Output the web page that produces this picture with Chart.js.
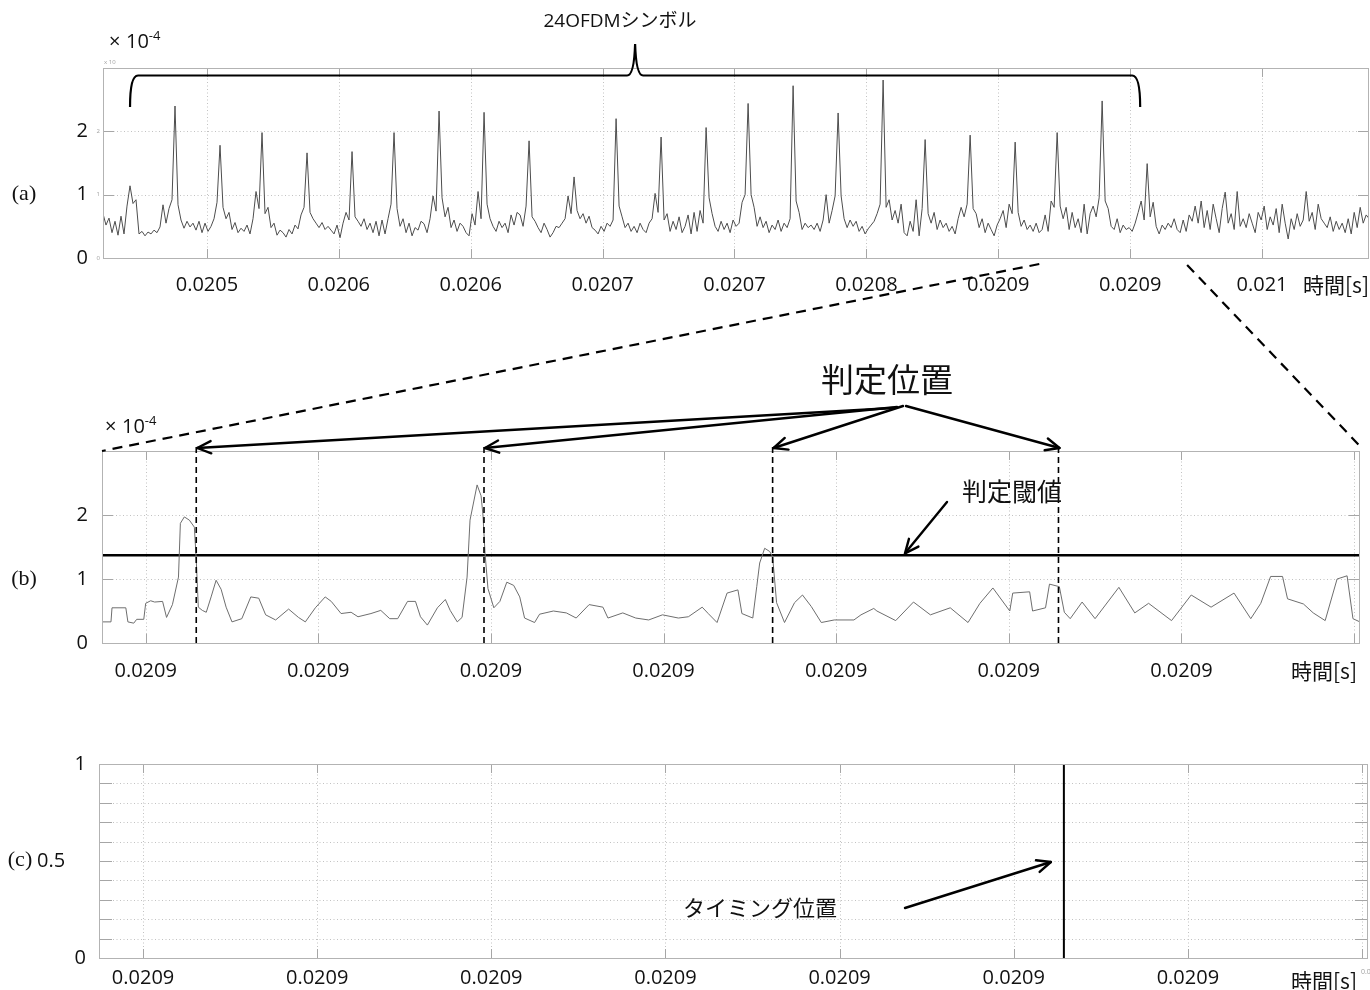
<!DOCTYPE html>
<html>
<head>
<meta charset="utf-8">
<script src="https://cdn.jsdelivr.net/npm/chart.js@4.4.1/dist/chart.umd.min.js"></script>
<style>
  html, body { margin: 0; padding: 0; background: #fff; }
  #wrap { position: relative; width: 1370px; height: 990px; overflow: hidden; background: #fff; }
  #wrap canvas { position: absolute; left: 0; }
</style>
</head>
<body>
<div id="wrap">
  <canvas id="ca" width="1370" height="320" style="top:0px"></canvas>
  <canvas id="cb" width="1370" height="370" style="top:320px"></canvas>
  <canvas id="cc" width="1370" height="290" style="top:700px"></canvas>
  <canvas id="ov" width="1370" height="990" style="top:0px;pointer-events:none"></canvas>
</div>
<script>
// ---------- (a) correlation output over the whole frame (x10^-4) ----------
const ampA = [
  0.70,0.52,0.63,0.40,0.58,0.36,0.66,0.38,0.82,1.14,
  0.86,0.92,0.38,0.42,0.35,0.41,0.38,0.44,0.40,0.49,
  0.84,0.55,0.78,0.92,2.40,0.84,0.60,0.47,0.58,0.49,
  0.55,0.44,0.58,0.40,0.55,0.42,0.50,0.62,0.88,1.78,
  0.80,0.62,0.72,0.45,0.56,0.40,0.47,0.42,0.52,0.38,
  0.62,1.05,0.78,1.98,0.70,0.80,0.48,0.55,0.36,0.44,
  0.40,0.33,0.45,0.38,0.52,0.46,0.68,0.80,1.66,0.72,
  0.62,0.55,0.48,0.56,0.45,0.50,0.44,0.38,0.52,0.32,
  0.55,0.72,0.60,1.68,0.65,0.58,0.50,0.62,0.45,0.55,
  0.40,0.58,0.35,0.60,0.38,0.62,0.85,1.98,0.78,0.50,
  0.62,0.40,0.55,0.35,0.48,0.44,0.58,0.54,0.40,0.62,
  0.98,0.74,2.32,0.95,0.65,0.80,0.48,0.60,0.42,0.55,
  0.50,0.40,0.35,0.70,0.52,1.05,0.62,2.30,0.85,0.62,
  0.50,0.42,0.58,0.48,0.55,0.40,0.68,0.52,0.72,0.68,
  0.50,0.82,1.85,0.65,0.58,0.48,0.40,0.55,0.45,0.33,
  0.40,0.50,0.48,0.55,0.62,0.98,0.70,1.28,0.75,0.62,
  0.70,0.55,0.66,0.48,0.44,0.38,0.50,0.42,0.55,0.50,
  0.60,2.20,0.82,0.65,0.48,0.55,0.42,0.50,0.40,0.55,
  0.45,0.40,0.55,0.62,1.02,0.72,1.91,0.60,0.70,0.42,
  0.58,0.45,0.65,0.40,0.50,0.68,0.38,0.72,0.42,0.75,
  0.55,2.06,0.95,0.70,0.50,0.42,0.58,0.45,0.55,0.40,
  0.60,0.50,0.55,0.88,1.00,2.44,1.00,0.80,0.50,0.65,
  0.48,0.58,0.40,0.52,0.45,0.60,0.42,0.55,0.48,0.62,
  2.72,0.90,0.72,0.45,0.55,0.48,0.52,0.45,0.55,0.42,
  0.60,1.00,0.55,0.75,0.98,2.29,0.98,0.62,0.48,0.60,
  0.50,0.58,0.42,0.50,0.38,0.46,0.52,0.58,0.70,0.85,
  2.81,0.80,0.92,0.60,0.75,0.55,0.85,0.40,0.35,0.58,
  0.42,0.92,0.35,0.78,1.87,0.70,0.55,0.72,0.45,0.60,
  0.48,0.55,0.42,0.50,0.38,0.62,0.80,0.65,0.85,1.94,
  0.78,0.70,0.48,0.62,0.40,0.55,0.45,0.35,0.52,0.62,
  0.75,0.48,0.85,0.70,1.83,0.72,0.50,0.60,0.45,0.52,
  0.42,0.55,0.40,0.45,0.68,0.42,0.90,0.80,1.98,0.82,
  0.62,0.80,0.45,0.72,0.48,0.62,0.40,0.85,0.38,0.70,
  0.82,0.65,0.95,2.48,0.90,0.78,0.50,0.45,0.62,0.40,
  0.52,0.45,0.48,0.42,0.55,0.72,0.90,0.60,1.49,0.65,
  0.88,0.50,0.38,0.52,0.45,0.55,0.48,0.62,0.45,0.40,
  0.60,0.42,0.68,0.58,0.82,0.55,0.90,0.48,0.75,0.45,
  0.85,0.62,0.40,0.78,1.04,0.55,0.70,0.45,1.05,0.50,
  0.62,0.48,0.70,0.55,0.40,0.72,0.60,0.82,0.45,0.65,
  0.52,0.78,0.40,0.85,0.55,0.30,0.62,0.45,0.70,0.50,
  0.60,1.05,0.58,0.72,0.45,0.85,0.62,0.55,0.48,0.65,
  0.42,0.58,0.45,0.55,0.40,0.62,0.38,0.72,0.48,0.80,
  0.55,0.68,0.62
];
const startA = -0.788;          // time of the first sample (axis tick units)
const stepA = 0.02275;          // sample spacing (axis tick units)
const rangeA = [-0.788, 8.811];
const tickPosA = [0, 1, 2, 3, 4, 5, 6, 7, 8];
const tickLabelsA = ['0.0205', '0.0206', '0.0206', '0.0207', '0.0207', '0.0208', '0.0209', '0.0209', '0.021'];
const yTicksA = [0, 1, 2, 3];
const yLabelsA = ['0', '1', '2', ''];
const symbolSpanA = [-0.583, 7.076];   // the 24 OFDM symbols
const zoomWindowA = [6.311, 7.432];    // stretch shown enlarged in (b)

// ---------- (b) enlarged correlation output with decision threshold ----------
const traceB = [
  [-25.3,0.33],[-20.1,0.33],[-19.5,0.55],[-11.5,0.55],[-10.3,0.33],[-6.9,0.31],[-5.2,0.37],[-1.1,0.37],
  [0,0.62],[2.9,0.66],[5.2,0.64],[9.8,0.65],[12.1,0.40],[15.5,0.60],[19.0,1.03],[20.1,1.87],
  [22.4,1.97],[25.3,1.92],[28.2,1.81],[29.3,1.30],[30.5,0.56],[32.8,0.51],[35.1,0.48],[37.9,0.72],
  [40.8,0.98],[43.7,0.84],[46.6,0.56],[50.0,0.33],[55.7,0.38],[60.9,0.72],[65.5,0.70],[69.5,0.44],
  [75.3,0.36],[82.8,0.53],[88.5,0.40],[92.5,0.33],[98.3,0.55],[104.0,0.72],[107.5,0.65],[113.2,0.46],
  [119.0,0.48],[123.0,0.41],[130.5,0.46],[136.2,0.51],[141.4,0.38],[146.0,0.38],[151.7,0.65],[156.3,0.65],
  [159.2,0.41],[163.2,0.28],[169.0,0.55],[173.6,0.68],[176.4,0.51],[180.5,0.33],[183.3,0.40],[186.2,1.03],
  [187.9,1.92],[192.0,2.47],[194.3,2.30],[195.4,2.00],[196.6,1.40],[198.3,0.85],[201.7,0.55],[205.2,0.65],
  [209.2,0.95],[213.2,0.90],[216.7,0.72],[219.5,0.39],[225.3,0.32],[228.2,0.45],[236.2,0.50],[243.7,0.47],
  [249.4,0.39],[256.9,0.60],[264.9,0.56],[267.8,0.39],[276.4,0.47],[283.9,0.39],[291.4,0.36],[299.4,0.44],
  [308.6,0.39],[314.4,0.41],[322.4,0.56],[325.9,0.46],[331.0,0.32],[336.8,0.78],[343.1,0.83],[345.4,0.46],
  [351.7,0.39],[354.0,0.88],[355.7,1.25],[358.6,1.48],[361.5,1.43],[363.2,1.35],[365.5,0.63],[370.1,0.32],
  [375.9,0.63],[380.5,0.75],[385.6,0.57],[391.4,0.32],[398.9,0.36],[410.3,0.36],[414.4,0.44],[421.8,0.54],
  [423.6,0.50],[434.5,0.35],[444.8,0.64],[454.6,0.44],[466.1,0.55],[476.4,0.32],[483.3,0.62],[490.8,0.86],
  [500.6,0.50],[502.3,0.78],[512.1,0.80],[513.8,0.50],[521.3,0.55],[523.6,0.92],[529.3,0.88],[532.2,0.48],
  [535.6,0.38],[542.5,0.64],[550.0,0.38],[563.8,0.87],[573.0,0.47],[581.0,0.62],[594.3,0.35],[605.7,0.75],
  [617.2,0.56],[630.5,0.78],[640.2,0.38],[646.0,0.62],[651.7,1.04],[658.6,1.04],[661.5,0.69],[670.7,0.61],
  [676.4,0.47],[683.3,0.35],[690.2,1.00],[696.0,1.05],[699.4,0.38],[703.4,0.33]
];
const rangeB = [-25.3, 703.4];
const tickPosB = [0, 100, 200, 300, 400, 500, 600, 700];
const tickLabelsB = ['0.0209', '0.0209', '0.0209', '0.0209', '0.0209', '0.0209', '0.0209', ''];
const yTicksB = [0, 1, 2, 3];
const yLabelsB = ['0', '1', '2', ''];
const thresholdB = [1.37];
const detectB = [29.3, 196.0, 363.2, 528.8];

// ---------- (c) timing output ----------
const timingT = [528.8];
const timingV = [1];
const yTicksC = [0, 0.1, 0.2, 0.3, 0.4, 0.5, 0.6, 0.7, 0.8, 0.9, 1.0];
const yLabelsC = ['0', '', '', '', '', '0.5    ', '', '', '', '', '1'];

// ---------- drawing helpers ----------
const SANS = "'Open Sans','Noto Sans CJK JP',sans-serif";
const CJK = "'Noto Sans CJK JP','Open Sans',sans-serif";
const SERIF = "'Liberation Serif','DejaVu Serif',serif";
const INK = '#111';
const TICK_FONT = { family: SANS, size: 20 };

function text(ctx, s, x, y, size, family, align = 'center', color = INK, weight = 'normal') {
  ctx.save();
  ctx.font = `${weight} ${size}px ${family}`;
  ctx.fillStyle = color;
  ctx.textAlign = align;
  ctx.textBaseline = 'middle';
  ctx.fillText(s, x, y);
  ctx.restore();
}

function arrow(ctx, x1, y1, x2, y2, width = 2.4, head = 15, spread = 0.42) {
  ctx.save();
  ctx.strokeStyle = '#000';
  ctx.lineWidth = width;
  ctx.lineCap = 'round';
  ctx.lineJoin = 'round';
  ctx.beginPath();
  ctx.moveTo(x1, y1);
  ctx.lineTo(x2, y2);
  ctx.stroke();
  const a = Math.atan2(y2 - y1, x2 - x1);
  ctx.beginPath();
  ctx.moveTo(x2 - head * Math.cos(a - spread), y2 - head * Math.sin(a - spread));
  ctx.lineTo(x2, y2);
  ctx.lineTo(x2 - head * Math.cos(a + spread), y2 - head * Math.sin(a + spread));
  ctx.stroke();
  ctx.restore();
}

// "×10^-4" exponent note above a y axis (x = left of the ×, y = baseline)
function exponent(ctx, x, y) {
  ctx.save();
  ctx.fillStyle = INK;
  ctx.textAlign = 'left';
  ctx.textBaseline = 'alphabetic';
  ctx.font = `20px ${SANS}`;
  ctx.fillText('×', x, y);
  ctx.fillText('10', x + 17, y);
  const w = ctx.measureText('10').width;
  ctx.font = `13px ${SANS}`;
  ctx.fillText('-4', x + 17 + w, y - 8);
  ctx.restore();
}

// dotted grid, boxed axes and inward tick marks
const axesBox = {
  id: 'axesBox',
  beforeDatasetsDraw(chart, args, o) {
    const { ctx, chartArea: a, scales: { x, y } } = chart;
    ctx.save();
    ctx.strokeStyle = '#c2c2c2';
    ctx.lineWidth = 1;
    ctx.setLineDash([1, 2.5]);
    ctx.beginPath();
    x.ticks.forEach(t => {
      const p = Math.round(x.getPixelForValue(t.value)) + 0.5;
      if (p > a.left + 2 && p < a.right - 2) { ctx.moveTo(p, a.top); ctx.lineTo(p, a.bottom); }
    });
    y.ticks.forEach(t => {
      const p = Math.round(y.getPixelForValue(t.value)) + 0.5;
      if (p > a.top + 2 && p < a.bottom - 2) { ctx.moveTo(a.left, p); ctx.lineTo(a.right, p); }
    });
    ctx.stroke();
    ctx.restore();
  },
  afterDatasetsDraw(chart, args, o) {
    const { ctx, chartArea: a, scales: { x, y } } = chart;
    ctx.save();
    ctx.strokeStyle = '#a6a6a6';
    ctx.lineWidth = 1;
    ctx.beginPath();
    x.ticks.forEach(t => {
      const p = Math.round(x.getPixelForValue(t.value)) + 0.5;
      if (p > a.left + 2 && p < a.right - 2) {
        ctx.moveTo(p, a.bottom); ctx.lineTo(p, a.bottom - o.xTick);
        ctx.moveTo(p, a.top); ctx.lineTo(p, a.top + o.xTick);
      }
    });
    y.ticks.forEach(t => {
      const p = Math.round(y.getPixelForValue(t.value)) + 0.5;
      if (p > a.top + 2 && p < a.bottom - 2) {
        ctx.moveTo(a.left, p); ctx.lineTo(a.left + o.yTick, p);
        ctx.moveTo(a.right, p); ctx.lineTo(a.right - o.yTick, p);
      }
    });
    ctx.stroke();
    ctx.strokeStyle = '#b3b3b3';
    ctx.strokeRect(Math.round(a.left) + 0.5, Math.round(a.top) + 0.5,
      Math.round(a.right - a.left) - 1, Math.round(a.bottom - a.top));
    ctx.restore();
  }
};
Chart.register(axesBox);

function axisOptions(c) {
  return {
    responsive: false,
    animation: false,
    events: [],
    layout: { padding: { top: c.top, right: 1, bottom: 0, left: 0 } },
    plugins: {
      legend: { display: false },
      tooltip: { enabled: false },
      axesBox: { xTick: c.xTick, yTick: c.yTick }
    },
    scales: {
      x: {
        type: 'linear', min: c.xRange[0], max: c.xRange[1],
        grid: { display: false, drawTicks: false },
        border: { display: false },
        afterBuildTicks: s => { s.ticks = c.xTicks.map(v => ({ value: v })); },
        afterFit: s => { s.height = c.xAxisHeight; },
        ticks: {
          autoSkip: false, maxRotation: 0, minRotation: 0, padding: c.xPad,
          color: INK, font: TICK_FONT,
          callback: (v, i) => c.xLabels[i]
        }
      },
      y: {
        type: 'linear', min: c.yRange[0], max: c.yRange[1],
        grid: { display: false, drawTicks: false },
        border: { display: false },
        afterBuildTicks: s => { s.ticks = c.yTicks.map(v => ({ value: v })); },
        afterFit: s => { s.width = c.left; },
        ticks: {
          autoSkip: false, padding: c.yPad,
          color: INK, font: TICK_FONT,
          callback: (v, i) => c.yLabels[i]
        }
      }
    }
  };
}

// ---------- chart (a) ----------
const chartA = new Chart(document.getElementById('ca'), {
  type: 'scatter',
  data: {
    datasets: [{
      data: ampA.map((v, i) => ({ x: startA + i * stepA, y: v })),
      showLine: true, borderColor: '#4d4d4d', borderWidth: 1, pointRadius: 0, tension: 0
    }]
  },
  options: axisOptions({
    top: 68, left: 103, xAxisHeight: 62, xPad: 15, yPad: 15, xTick: 9, yTick: 11,
    xRange: rangeA, xTicks: tickPosA, xLabels: tickLabelsA,
    yRange: [0, 3], yTicks: yTicksA, yLabels: yLabelsA
  }),
  plugins: [{
    id: 'notesA',
    afterDraw(chart) {
      const { ctx, chartArea: a, scales: { x, y } } = chart;
      text(ctx, '(a)', 24, 194, 22, SERIF);
      exponent(ctx, 109, 48);
      text(ctx, '24OFDMシンボル', 620, 22, 19, SANS);
      text(ctx, '時間[s]', 1336, 285, 21, CJK);
      // faint leftover labels of the raw plot
      ctx.save();
      ctx.fillStyle = '#a0a0a0';
      ctx.font = `6px ${SANS}`;
      ctx.textBaseline = 'middle';
      ctx.textAlign = 'left';
      ctx.fillText('x 10', a.left + 1, a.top - 6);
      ctx.textAlign = 'right';
      yTicksA.slice(0, 3).forEach((v, i) => ctx.fillText(yLabelsA[i], a.left - 3, y.getPixelForValue(v)));
      ctx.restore();
      // brace over the 24 symbols
      const xl = x.getPixelForValue(symbolSpanA[0]);
      const xr = x.getPixelForValue(symbolSpanA[1]);
      const xm = (xl + xr) / 2;
      const yb = a.top + 7.5, ye = a.top + 39, yp = a.top - 24;
      ctx.save();
      ctx.strokeStyle = '#000';
      ctx.lineWidth = 2.2;
      ctx.beginPath();
      ctx.moveTo(xl, ye);
      ctx.quadraticCurveTo(xl, yb, xl + 8, yb);
      ctx.lineTo(xm - 8, yb);
      ctx.quadraticCurveTo(xm - 1, yb, xm, yp);
      ctx.quadraticCurveTo(xm + 1, yb, xm + 8, yb);
      ctx.lineTo(xr - 8, yb);
      ctx.quadraticCurveTo(xr, yb, xr, ye);
      ctx.stroke();
      ctx.restore();
    }
  }]
});

// ---------- chart (b) ----------
const chartB = new Chart(document.getElementById('cb'), {
  type: 'scatter',
  data: {
    datasets: [
      {
        data: traceB.map(p => ({ x: p[0], y: p[1] })),
        showLine: true, borderColor: '#6e6e6e', borderWidth: 1, pointRadius: 0, tension: 0
      },
      {
        data: [{ x: rangeB[0], y: thresholdB[0] }, { x: rangeB[1], y: thresholdB[0] }],
        showLine: true, borderColor: '#000', borderWidth: 2.6, pointRadius: 0
      }
    ]
  },
  options: axisOptions({
    top: 131, left: 102, xAxisHeight: 47, xPad: 16, yPad: 14, xTick: 9, yTick: 11,
    xRange: rangeB, xTicks: tickPosB, xLabels: tickLabelsB,
    yRange: [0, 3], yTicks: yTicksB, yLabels: yLabelsB
  }),
  plugins: [{
    id: 'notesB',
    afterDraw(chart) {
      const { ctx, chartArea: a, scales: { x, y } } = chart;
      text(ctx, '(b)', 24, 259, 22, SERIF);
      exponent(ctx, 105, 113);
      text(ctx, '時間[s]', 1324, 351, 21, CJK);
      // decision positions
      ctx.save();
      ctx.strokeStyle = '#000';
      ctx.lineWidth = 1.6;
      ctx.setLineDash([6, 4]);
      detectB.forEach(d => {
        const p = x.getPixelForValue(d);
        ctx.beginPath();
        ctx.moveTo(p, a.top - 4);
        ctx.lineTo(p, a.bottom);
        ctx.stroke();
      });
      ctx.restore();
      text(ctx, '判定位置', 887, 59, 33, CJK);
      const origins = [[893, 88], [897, 87], [903, 86], [906, 86]];
      detectB.forEach((d, i) => {
        arrow(ctx, origins[i][0], origins[i][1], x.getPixelForValue(d) + 1, a.top - 3, 2.4, 15);
      });
      // threshold note
      text(ctx, '判定閾値', 1012, 171, 25, CJK);
      arrow(ctx, 947, 182, 905, y.getPixelForValue(thresholdB[0]) - 2, 2.4, 15);
    }
  }]
});

// ---------- chart (c) ----------
const chartC = new Chart(document.getElementById('cc'), {
  type: 'scatter',
  data: {
    datasets: [{
      data: timingT.flatMap((t, i) => [{ x: t, y: 0 }, { x: t, y: timingV[i] }]),
      showLine: true, borderColor: '#000', borderWidth: 2, pointRadius: 0
    }]
  },
  options: axisOptions({
    top: 64, left: 99, xAxisHeight: 32, xPad: 8, yPad: 13, xTick: 9, yTick: 13,
    xRange: rangeB, xTicks: tickPosB, xLabels: tickLabelsB,
    yRange: [0, 1], yTicks: yTicksC, yLabels: yLabelsC
  }),
  plugins: [{
    id: 'notesC',
    afterDraw(chart) {
      const { ctx, chartArea: a, scales: { x, y } } = chart;
      text(ctx, '(c)', 20, 160, 22, SERIF);
      text(ctx, 'タイミング位置', 760, 208, 22, CJK);
      arrow(ctx, 905, 208, x.getPixelForValue(timingT[0]) - 13, y.getPixelForValue(0.5) + 1, 2.4, 15);
      text(ctx, '時間[s]', 1324, 281, 21, CJK);
      text(ctx, '0.0209', a.right - 7, a.bottom + 14, 7, SANS, 'left', '#a0a0a0');
    }
  }]
});

// ---------- connector lines from (a) to the enlarged view (b) ----------
(function drawZoomLines() {
  const ov = document.getElementById('ov').getContext('2d');
  const topB = 320;
  const ax = chartA.scales.x;
  const yA = chartA.chartArea.bottom + 6;
  const bA = chartB.chartArea;
  ov.save();
  ov.strokeStyle = '#000';
  ov.lineWidth = 2.2;
  ov.setLineDash([10, 7]);
  ov.beginPath();
  ov.moveTo(ax.getPixelForValue(zoomWindowA[0]), yA);
  ov.lineTo(bA.left, bA.top + topB);
  ov.stroke();
  ov.beginPath();
  ov.moveTo(ax.getPixelForValue(zoomWindowA[1]), yA + 1);
  ov.lineTo(bA.right + 1, bA.top + topB - 4);
  ov.stroke();
  ov.restore();
})();
</script>
</body>
</html>
